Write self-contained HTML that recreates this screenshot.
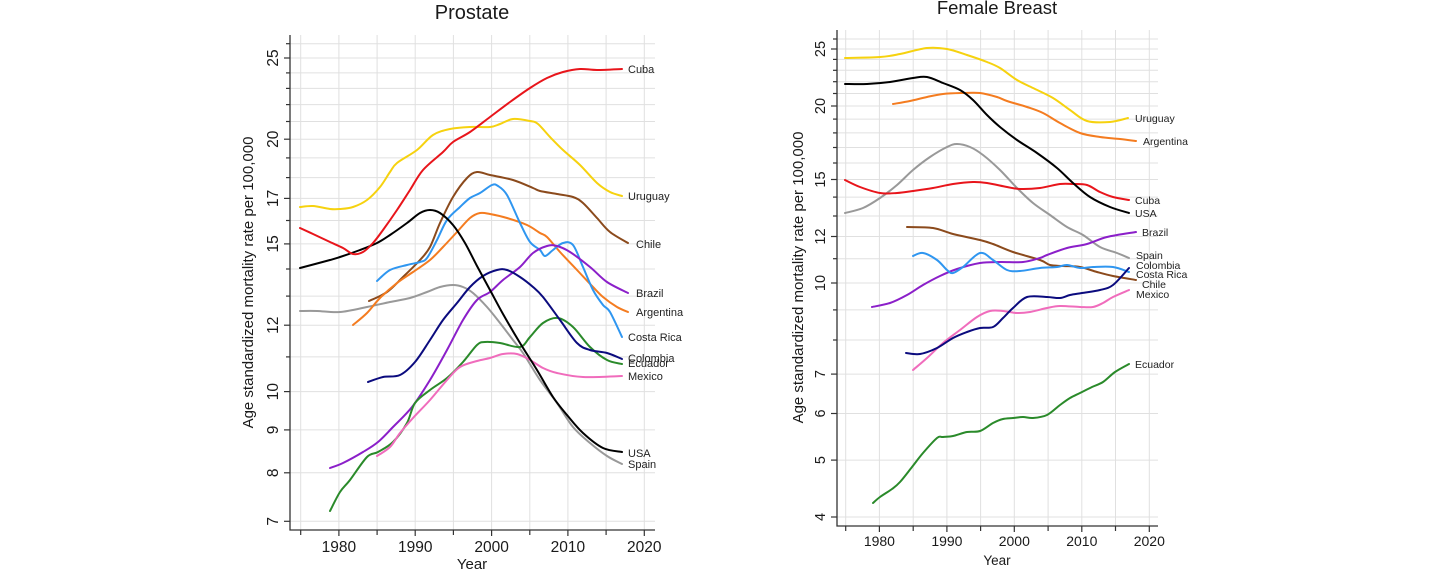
<!DOCTYPE html>
<html>
<head>
<meta charset="utf-8">
<style>
html,body{margin:0;padding:0;background:#fff;}
svg{display:block;}
text{font-family:"Liberation Sans",Arial,sans-serif;fill:#1a1a1a;}
.s{fill:none;stroke-width:2;stroke-linejoin:round;stroke-linecap:round;}
.g{stroke:#e0e0e0;stroke-width:1;}
.ax{stroke:#333;stroke-width:1.3;fill:none;}
.lab{font-size:11px;fill:#222;}
.labr{font-size:10.5px;fill:#222;}
</style>
</head>
<body>
<svg id="chart" width="1429" height="580" viewBox="0 0 1429 580" xmlns="http://www.w3.org/2000/svg">
<rect width="1429" height="580" fill="#fff"/>

<!-- ================= LEFT: PROSTATE ================= -->
<g>
<g class="g">
<line x1="300.7" y1="35" x2="300.7" y2="530"/>
<line x1="338.9" y1="35" x2="338.9" y2="530"/>
<line x1="377.1" y1="35" x2="377.1" y2="530"/>
<line x1="415.2" y1="35" x2="415.2" y2="530"/>
<line x1="453.4" y1="35" x2="453.4" y2="530"/>
<line x1="491.6" y1="35" x2="491.6" y2="530"/>
<line x1="529.8" y1="35" x2="529.8" y2="530"/>
<line x1="567.9" y1="35" x2="567.9" y2="530"/>
<line x1="606.1" y1="35" x2="606.1" y2="530"/>
<line x1="644.3" y1="35" x2="644.3" y2="530"/>
</g>
<g class="g">
<line x1="290" y1="521.3" x2="655" y2="521.3"/>
<line x1="290" y1="472.8" x2="655" y2="472.8"/>
<line x1="290" y1="429.9" x2="655" y2="429.9"/>
<line x1="290" y1="391.6" x2="655" y2="391.6"/>
<line x1="290" y1="356.9" x2="655" y2="356.9"/>
<line x1="290" y1="325.2" x2="655" y2="325.2"/>
<line x1="290" y1="296.1" x2="655" y2="296.1"/>
<line x1="290" y1="269.0" x2="655" y2="269.0"/>
<line x1="290" y1="243.9" x2="655" y2="243.9"/>
<line x1="290" y1="220.5" x2="655" y2="220.5"/>
<line x1="290" y1="198.4" x2="655" y2="198.4"/>
<line x1="290" y1="177.6" x2="655" y2="177.6"/>
<line x1="290" y1="157.9" x2="655" y2="157.9"/>
<line x1="290" y1="139.2" x2="655" y2="139.2"/>
<line x1="290" y1="121.5" x2="655" y2="121.5"/>
<line x1="290" y1="104.6" x2="655" y2="104.6"/>
<line x1="290" y1="88.4" x2="655" y2="88.4"/>
<line x1="290" y1="72.9" x2="655" y2="72.9"/>
<line x1="290" y1="58.0" x2="655" y2="58.0"/>
<line x1="290" y1="43.7" x2="655" y2="43.7"/>
</g>
<path class="ax" d="M290,35 L290,530 L655,530"/>
<g stroke="#333" stroke-width="1.2">
<line x1="284" y1="521.3" x2="290" y2="521.3"/>
<line x1="284" y1="472.8" x2="290" y2="472.8"/>
<line x1="284" y1="429.9" x2="290" y2="429.9"/>
<line x1="284" y1="391.6" x2="290" y2="391.6"/>
<line x1="286" y1="356.9" x2="290" y2="356.9"/>
<line x1="284" y1="325.2" x2="290" y2="325.2"/>
<line x1="286" y1="296.1" x2="290" y2="296.1"/>
<line x1="286" y1="269.0" x2="290" y2="269.0"/>
<line x1="284" y1="243.9" x2="290" y2="243.9"/>
<line x1="286" y1="220.5" x2="290" y2="220.5"/>
<line x1="284" y1="198.4" x2="290" y2="198.4"/>
<line x1="286" y1="177.6" x2="290" y2="177.6"/>
<line x1="286" y1="157.9" x2="290" y2="157.9"/>
<line x1="284" y1="139.2" x2="290" y2="139.2"/>
<line x1="286" y1="121.5" x2="290" y2="121.5"/>
<line x1="286" y1="104.6" x2="290" y2="104.6"/>
<line x1="286" y1="88.4" x2="290" y2="88.4"/>
<line x1="286" y1="72.9" x2="290" y2="72.9"/>
<line x1="284" y1="58.0" x2="290" y2="58.0"/>
<line x1="286" y1="43.7" x2="290" y2="43.7"/>
</g>
<g stroke="#333" stroke-width="1.2">
<line x1="300.7" y1="530" x2="300.7" y2="535"/>
<line x1="338.9" y1="530" x2="338.9" y2="536"/>
<line x1="377.1" y1="530" x2="377.1" y2="535"/>
<line x1="415.2" y1="530" x2="415.2" y2="536"/>
<line x1="453.4" y1="530" x2="453.4" y2="535"/>
<line x1="491.6" y1="530" x2="491.6" y2="536"/>
<line x1="529.8" y1="530" x2="529.8" y2="535"/>
<line x1="567.9" y1="530" x2="567.9" y2="536"/>
<line x1="606.1" y1="530" x2="606.1" y2="535"/>
<line x1="644.3" y1="530" x2="644.3" y2="536"/>
</g>
<g font-size="15.5" text-anchor="middle">
<text transform="translate(278,58) rotate(-90)">25</text>
<text transform="translate(278,139.2) rotate(-90)">20</text>
<text transform="translate(278,198.4) rotate(-90)">17</text>
<text transform="translate(278,243.9) rotate(-90)">15</text>
<text transform="translate(278,325.2) rotate(-90)">12</text>
<text transform="translate(278,391.6) rotate(-90)">10</text>
<text transform="translate(278,429.9) rotate(-90)">9</text>
<text transform="translate(278,472.8) rotate(-90)">8</text>
<text transform="translate(278,521.3) rotate(-90)">7</text>
</g>
<g font-size="15.5" text-anchor="middle">
<text x="338.9" y="552">1980</text>
<text x="415.2" y="552">1990</text>
<text x="491.6" y="552">2000</text>
<text x="567.9" y="552">2010</text>
<text x="644.3" y="552">2020</text>
</g>
<text x="472" y="569" font-size="15" text-anchor="middle">Year</text>
<text transform="translate(253,282.5) rotate(-90)" font-size="15" text-anchor="middle">Age standardized mortality rate per 100,000</text>
<text x="472" y="19" font-size="20" text-anchor="middle">Prostate</text>

<polyline class="s" stroke="#f6d20f" points="300,207 313,206 330,209 340,209 353,207 367,200 380,187 390,172 397,163 417,150 433,135 450,129 470,127 490,127 500,124 513,119 530,121 538,124 550,137 563,150 580,165 597,183 610,192 622,196"/>
<polyline class="s" stroke="#999999" points="300,311 317,311 340,312 367,307 390,302 410,298 427,292 440,287 453,285 463,287 473,293 487,307 500,323 513,340 523,353 540,380 557,403 573,427 590,443 607,456 622,464"/>
<polyline class="s" stroke="#8b4a1c" points="369,301 387,292 403,277 420,260 430,247 440,223 453,197 467,178 477,172 490,175 513,180 533,188 540,191 557,194 573,197 583,203 597,218 610,232 628,243"/>
<polyline class="s" stroke="#f47c20" points="353,325 367,313 380,298 397,283 413,272 430,260 443,247 457,232 470,218 480,213 490,214 507,218 527,225 540,233 547,237 560,252 577,270 593,287 603,297 617,307 628,312"/>
<polyline class="s" stroke="#2f96f0" points="377,281 390,270 407,265 420,262 427,258 437,240 447,220 460,207 470,198 480,193 492,185 498,186 507,195 520,223 530,242 540,250 545,256 553,250 563,243 573,245 583,267 593,290 603,305 610,312 622,337"/>
<polyline class="s" stroke="#8b1fc9" points="330,468 343,463 363,452 378,442 393,427 412,407 430,380 447,350 463,320 477,300 490,292 503,280 520,267 533,253 547,246 557,246 570,252 590,267 607,282 628,293"/>
<polyline class="s" stroke="#2a8a2a" points="330,511 340,492 350,480 367,457 378,452 393,442 407,423 415,403 430,390 447,378 463,362 477,345 485,342 500,343 520,347 530,337 543,323 558,318 573,327 590,347 607,360 622,364"/>
<polyline class="s" stroke="#f06cbc" points="377,456 390,447 400,433 413,418 430,400 447,380 460,367 477,361 490,358 503,354 517,354 530,360 543,368 557,373 583,377 622,376"/>
<polyline class="s" stroke="#0b0b7e" points="368,382 383,377 400,375 415,362 430,340 443,320 457,303 470,287 483,276 497,270 507,270 520,277 533,287 543,297 560,320 577,343 590,350 607,353 622,359"/>
<polyline class="s" stroke="#000000" points="300,268 330,260 340,257 360,250 377,243 390,235 407,223 420,213 430,210 440,213 453,225 465,243 477,266 490,290 503,314 520,343 537,370 553,397 567,415 583,433 603,448 622,452"/>
<polyline class="s" stroke="#e8151b" points="300,228 313,234 330,242 343,248 353,254 363,252 373,243 383,230 397,210 410,190 423,170 443,152 453,142 470,132 490,117 510,102 530,88 547,78 563,72 580,69 597,70 622,69"/>

<text class="lab" x="628" y="73">Cuba</text>
<text class="lab" x="628" y="200">Uruguay</text>
<text class="lab" x="636" y="248">Chile</text>
<text class="lab" x="636" y="297">Brazil</text>
<text class="lab" x="636" y="316">Argentina</text>
<text class="lab" x="628" y="341">Costa Rica</text>
<text class="lab" x="628" y="362">Colombia</text>
<text class="lab" x="628" y="367">Ecuador</text>
<text class="lab" x="628" y="380">Mexico</text>
<text class="lab" x="628" y="457">USA</text>
<text class="lab" x="628" y="468">Spain</text>
</g>

<!-- ================= RIGHT: FEMALE BREAST ================= -->
<g>
<g class="g">
<line x1="845.7" y1="30" x2="845.7" y2="526"/>
<line x1="879.4" y1="30" x2="879.4" y2="526"/>
<line x1="913.2" y1="30" x2="913.2" y2="526"/>
<line x1="946.9" y1="30" x2="946.9" y2="526"/>
<line x1="980.6" y1="30" x2="980.6" y2="526"/>
<line x1="1014.3" y1="30" x2="1014.3" y2="526"/>
<line x1="1048.1" y1="30" x2="1048.1" y2="526"/>
<line x1="1081.8" y1="30" x2="1081.8" y2="526"/>
<line x1="1115.5" y1="30" x2="1115.5" y2="526"/>
<line x1="1149.3" y1="30" x2="1149.3" y2="526"/>
</g>
<g class="g">
<line x1="837" y1="517.0" x2="1158" y2="517.0"/>
<line x1="837" y1="460.1" x2="1158" y2="460.1"/>
<line x1="837" y1="413.5" x2="1158" y2="413.5"/>
<line x1="837" y1="374.1" x2="1158" y2="374.1"/>
<line x1="837" y1="340.0" x2="1158" y2="340.0"/>
<line x1="837" y1="309.9" x2="1158" y2="309.9"/>
<line x1="837" y1="283.0" x2="1158" y2="283.0"/>
<line x1="837" y1="258.7" x2="1158" y2="258.7"/>
<line x1="837" y1="236.5" x2="1158" y2="236.5"/>
<line x1="837" y1="216.0" x2="1158" y2="216.0"/>
<line x1="837" y1="197.1" x2="1158" y2="197.1"/>
<line x1="837" y1="179.5" x2="1158" y2="179.5"/>
<line x1="837" y1="163.0" x2="1158" y2="163.0"/>
<line x1="837" y1="147.5" x2="1158" y2="147.5"/>
<line x1="837" y1="132.9" x2="1158" y2="132.9"/>
<line x1="837" y1="119.1" x2="1158" y2="119.1"/>
<line x1="837" y1="106.0" x2="1158" y2="106.0"/>
<line x1="837" y1="93.5" x2="1158" y2="93.5"/>
<line x1="837" y1="81.7" x2="1158" y2="81.7"/>
<line x1="837" y1="70.3" x2="1158" y2="70.3"/>
<line x1="837" y1="59.4" x2="1158" y2="59.4"/>
<line x1="837" y1="49.0" x2="1158" y2="49.0"/>
<line x1="837" y1="39.0" x2="1158" y2="39.0"/>
</g>
<path class="ax" d="M837,30 L837,526 L1158,526"/>
<g stroke="#333" stroke-width="1.2">
<line x1="831" y1="517.0" x2="837" y2="517.0"/>
<line x1="831" y1="460.1" x2="837" y2="460.1"/>
<line x1="831" y1="413.5" x2="837" y2="413.5"/>
<line x1="831" y1="374.1" x2="837" y2="374.1"/>
<line x1="833" y1="340.0" x2="837" y2="340.0"/>
<line x1="833" y1="309.9" x2="837" y2="309.9"/>
<line x1="831" y1="283.0" x2="837" y2="283.0"/>
<line x1="833" y1="258.7" x2="837" y2="258.7"/>
<line x1="831" y1="236.5" x2="837" y2="236.5"/>
<line x1="833" y1="216.0" x2="837" y2="216.0"/>
<line x1="833" y1="197.1" x2="837" y2="197.1"/>
<line x1="831" y1="179.5" x2="837" y2="179.5"/>
<line x1="833" y1="163.0" x2="837" y2="163.0"/>
<line x1="833" y1="147.5" x2="837" y2="147.5"/>
<line x1="833" y1="132.9" x2="837" y2="132.9"/>
<line x1="833" y1="119.1" x2="837" y2="119.1"/>
<line x1="831" y1="106.0" x2="837" y2="106.0"/>
<line x1="833" y1="93.5" x2="837" y2="93.5"/>
<line x1="833" y1="81.7" x2="837" y2="81.7"/>
<line x1="833" y1="70.3" x2="837" y2="70.3"/>
<line x1="833" y1="59.4" x2="837" y2="59.4"/>
<line x1="831" y1="49.0" x2="837" y2="49.0"/>
<line x1="833" y1="39.0" x2="837" y2="39.0"/>
</g>
<g stroke="#333" stroke-width="1.2">
<line x1="845.7" y1="526" x2="845.7" y2="531"/>
<line x1="879.4" y1="526" x2="879.4" y2="532"/>
<line x1="913.2" y1="526" x2="913.2" y2="531"/>
<line x1="946.9" y1="526" x2="946.9" y2="532"/>
<line x1="980.6" y1="526" x2="980.6" y2="531"/>
<line x1="1014.3" y1="526" x2="1014.3" y2="532"/>
<line x1="1048.1" y1="526" x2="1048.1" y2="531"/>
<line x1="1081.8" y1="526" x2="1081.8" y2="532"/>
<line x1="1115.5" y1="526" x2="1115.5" y2="531"/>
<line x1="1149.3" y1="526" x2="1149.3" y2="532"/>
</g>
<g font-size="14.5" text-anchor="middle">
<text transform="translate(825,49) rotate(-90)">25</text>
<text transform="translate(825,106) rotate(-90)">20</text>
<text transform="translate(825,179.5) rotate(-90)">15</text>
<text transform="translate(825,236.5) rotate(-90)">12</text>
<text transform="translate(825,283) rotate(-90)">10</text>
<text transform="translate(825,374.1) rotate(-90)">7</text>
<text transform="translate(825,413.5) rotate(-90)">6</text>
<text transform="translate(825,460.1) rotate(-90)">5</text>
<text transform="translate(825,517) rotate(-90)">4</text>
</g>
<g font-size="14" text-anchor="middle">
<text x="879.4" y="546">1980</text>
<text x="946.9" y="546">1990</text>
<text x="1014.3" y="546">2000</text>
<text x="1081.8" y="546">2010</text>
<text x="1149.3" y="546">2020</text>
</g>
<text x="997" y="565" font-size="13.5" text-anchor="middle">Year</text>
<text transform="translate(803,277.5) rotate(-90)" font-size="15" text-anchor="middle">Age standardized mortality rate per 100,000</text>
<text x="997" y="14" font-size="18.5" text-anchor="middle">Female Breast</text>

<polyline class="s" stroke="#f6d20f" points="845,58 880,57 900,54 927,48 947,49 967,55 987,62 1000,68 1017,80 1033,88 1053,98 1070,110 1087,121 1110,122 1128,118"/>
<polyline class="s" stroke="#f47c20" points="893,104 910,101 927,97 943,94 963,93 980,93 997,97 1007,101 1027,107 1043,113 1060,123 1080,133 1100,137 1120,139 1136,141"/>
<polyline class="s" stroke="#999999" points="845,213 863,208 880,198 897,185 913,170 930,157 947,147 957,144 970,147 983,155 1000,170 1017,188 1033,203 1050,215 1067,227 1083,235 1100,247 1117,253 1129,258"/>
<polyline class="s" stroke="#e8151b" points="845,180 860,187 880,193 897,193 913,191 933,188 953,184 973,182 987,183 1007,187 1020,189 1040,188 1060,184 1073,184 1087,185 1100,192 1113,197 1129,200"/>
<polyline class="s" stroke="#000000" points="845,84 867,84 890,82 913,78 927,77 943,83 960,90 973,100 987,115 1000,127 1017,140 1037,153 1057,168 1073,183 1090,197 1110,207 1129,213"/>
<polyline class="s" stroke="#8b4a1c" points="907,227 933,228 953,234 980,240 993,244 1013,252 1040,260 1050,265 1063,266 1080,267 1097,272 1113,276 1136,280"/>
<polyline class="s" stroke="#8b1fc9" points="872,307 890,303 907,295 923,285 940,276 957,269 980,263 1000,262 1023,262 1040,258 1047,255 1067,248 1087,244 1107,237 1136,232"/>
<polyline class="s" stroke="#2f96f0" points="913,256 923,253 937,260 947,270 953,273 963,267 980,253 993,260 1007,270 1020,271 1040,268 1057,267 1067,265 1080,268 1093,267 1113,267 1129,272"/>
<polyline class="s" stroke="#f06cbc" points="913,370 927,358 943,343 960,330 977,317 990,311 1003,311 1017,313 1030,312 1047,308 1060,306 1080,307 1093,307 1103,303 1113,297 1129,290"/>
<polyline class="s" stroke="#0b0b7e" points="906,353 920,354 937,348 953,338 967,332 980,328 993,327 1003,318 1013,308 1027,297 1047,297 1060,298 1070,295 1082,293 1100,290 1113,285 1129,268"/>
<polyline class="s" stroke="#2a8a2a" points="873,503 880,497 892,489 900,482 912,467 923,453 937,438 943,437 953,436 967,432 980,431 993,423 1003,419 1013,418 1023,417 1033,418 1047,415 1060,405 1070,398 1080,393 1092,387 1103,382 1115,372 1129,364"/>

<text class="labr" x="1135" y="122">Uruguay</text>
<text class="labr" x="1143" y="145">Argentina</text>
<text class="labr" x="1135" y="204">Cuba</text>
<text class="labr" x="1135" y="217">USA</text>
<text class="labr" x="1142" y="236">Brazil</text>
<text class="labr" x="1136" y="259">Spain</text>
<text class="labr" x="1136" y="269">Colombia</text>
<text class="labr" x="1136" y="278">Costa Rica</text>
<text class="labr" x="1142" y="288">Chile</text>
<text class="labr" x="1136" y="298">Mexico</text>
<text class="labr" x="1135" y="368">Ecuador</text>
</g>
</svg>
<script>
(function(){
  var NS="http://www.w3.org/2000/svg";
  var pls=document.querySelectorAll("polyline.s");
  for(var k=0;k<pls.length;k++){
    var pl=pls[k];
    var raw=pl.getAttribute("points").trim().split(/\s+/);
    var p=[];
    for(var i=0;i<raw.length;i++){var c=raw[i].split(",");p.push([+c[0],+c[1]]);}
    if(p.length<3) continue;
    var d="M"+p[0][0]+","+p[0][1];
    var t=0.5;
    for(var i=0;i<p.length-1;i++){
      var p0=p[i>0?i-1:i],p1=p[i],p2=p[i+1],p3=p[i+2<p.length?i+2:i+1];
      var c1x=p1[0]+(p2[0]-p0[0])/6*t*2, c1y=p1[1]+(p2[1]-p0[1])/6*t*2;
      var c2x=p2[0]-(p3[0]-p1[0])/6*t*2, c2y=p2[1]-(p3[1]-p1[1])/6*t*2;
      d+=" C"+c1x.toFixed(2)+","+c1y.toFixed(2)+" "+c2x.toFixed(2)+","+c2y.toFixed(2)+" "+p2[0]+","+p2[1];
    }
    var path=document.createElementNS(NS,"path");
    path.setAttribute("d",d);
    path.setAttribute("class","s");
    path.setAttribute("stroke",pl.getAttribute("stroke"));
    pl.parentNode.replaceChild(path,pl);
  }
})();
</script>
</body>
</html>
